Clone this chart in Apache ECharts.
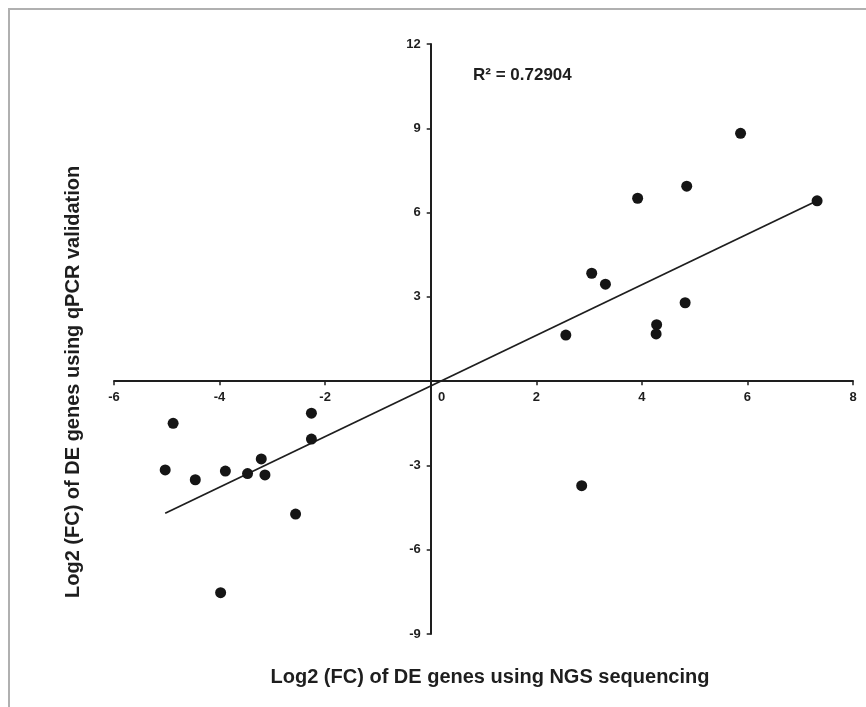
<!DOCTYPE html>
<html><head><meta charset="utf-8">
<script src="https://cdn.jsdelivr.net/npm/echarts@6/dist/echarts.min.js"></script>
<style>
html,body{margin:0;padding:0;background:#fff;}
#frame{position:absolute;left:8px;top:8px;width:858px;height:699px;border-top:2px solid #b0b0b0;border-left:2px solid #b0b0b0;box-sizing:border-box;}
#chart{position:absolute;left:0;top:0;width:866px;height:707px;}
</style></head><body>
<div id="frame"></div><div id="chart"></div>
<script>
// NGS log2 fold change (x) and qPCR log2 fold change (y)
const ngsX  = [-4.88, -2.26, -2.26, -5.03, -4.46, -3.89, -3.21, -3.47, -3.14, -2.56, -3.98,
               5.87, 4.85, 3.92, 7.32, 3.05, 3.31, 4.82, 4.28, 4.27, 2.56, 2.86];
const qpcrY = [-1.50, -1.14, -2.06, -3.16, -3.51, -3.20, -2.77, -3.29, -3.34, -4.73, -7.53,
               8.82, 6.94, 6.51, 6.42, 3.84, 3.45, 2.79, 2.01, 1.68, 1.64, -3.72];
// fitted trend line end points
const trendX = [-5.03, 7.32];
const trendY = [-4.70, 6.42];
const xTickValues = [-6, -4, -2, 0, 2, 4, 6, 8];
const yTickValues = [-9, -6, -3, 0, 3, 6, 9, 12];
const r2Text = 'R\u00b2 = 0.72904';
const xTitle = 'Log2 (FC) of DE genes using NGS sequencing';
const yTitle = 'Log2 (FC) of DE genes using qPCR validation';

const FONT = '"Liberation Sans", Arial, Helvetica, sans-serif';
const INK = '#1e1e1e';
const GRID = {left: 114, right: 13, top: 44, bottom: 73};
const chart = echarts.init(document.getElementById('chart'), null, {renderer: 'canvas'});
const points = ngsX.map((x, i) => [x, qpcrY[i]]);
const trend = trendX.map((x, i) => [x, trendY[i]]);
const axisCommon = {
  type: 'value',
  splitLine: {show: false},
  axisLine: {onZero: false, lineStyle: {color: INK, width: 2}},
  axisTick: {show: true, length: 4, lineStyle: {color: INK, width: 1.5}},
};
chart.setOption({
  animation: false,
  backgroundColor: 'transparent',
  grid: Object.assign({containLabel: false, outerBoundsMode: 'none'}, GRID),
  title: {text: r2Text, left: 468, top: 62,
          textStyle: {fontFamily: FONT, fontWeight: 'bold', fontSize: 17, color: INK}},
  graphic: [
    {type: 'text', x: 490, y: 667,
     style: {text: xTitle, font: 'bold 20px ' + FONT, fill: INK, textAlign: 'center'}},
    {type: 'text', rotation: Math.PI / 2, x: 63, y: 598,
     style: {text: yTitle, font: 'bold 20px ' + FONT, fill: INK}}
  ],
  xAxis: Object.assign({}, axisCommon, {
    position: 'bottom',
    min: xTickValues[0], max: xTickValues[xTickValues.length - 1], interval: 2,
    axisLabel: {fontFamily: FONT, fontWeight: 'bold', fontSize: 13, color: INK, margin: 10,
      formatter: v => v === 0 ? '{z|0}' : String(v),
      rich: {z: {fontFamily: FONT, fontWeight: 'bold', fontSize: 13, color: INK, padding: [0, 0, 0, 22]}}}
  }),
  yAxis: Object.assign({}, axisCommon, {
    position: 'left',
    min: yTickValues[0], max: yTickValues[yTickValues.length - 1], interval: 3,
    axisLabel: {fontFamily: FONT, fontWeight: 'bold', fontSize: 13, color: INK, margin: 10,
      formatter: v => v === 0 ? '' : String(v)}
  }),
  series: [
    {type: 'line', data: trend, showSymbol: false, symbol: 'none',
     lineStyle: {color: INK, width: 1.8}, z: 2, silent: true},
    {type: 'scatter', data: points, symbol: 'circle', symbolSize: 11,
     itemStyle: {color: '#151515', opacity: 1}, z: 3}
  ]
});
// move both axes (with labels and ticks) to cross at the origin
const origin = chart.convertToPixel({gridIndex: 0}, [0, 0]);
const gridBottomPx = chart.getHeight() - GRID.bottom;
chart.setOption({
  xAxis: {offset: origin[1] - gridBottomPx},
  yAxis: {offset: GRID.left - origin[0]}
});
</script>
</body></html>
